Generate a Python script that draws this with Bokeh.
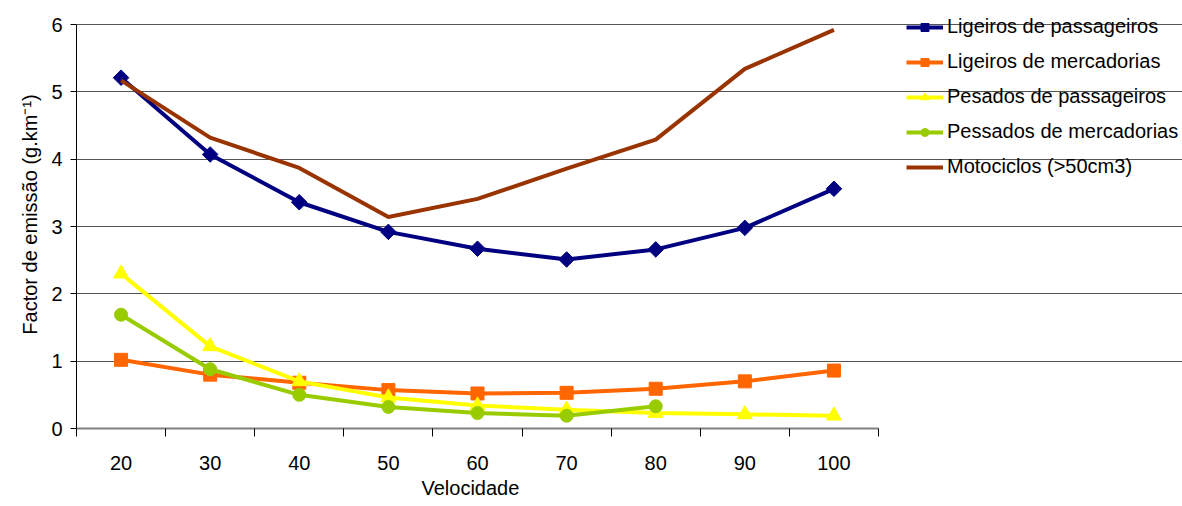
import numpy as np
from bokeh.plotting import figure
from bokeh.models import Range1d, FixedTicker, Legend, LegendItem, Title
from bokeh.embed import file_html
from bokeh.resources import INLINE

speeds = [20, 30, 40, 50, 60, 70, 80, 90, 100]
lig_pass = [5.21, 4.07, 3.36, 2.92, 2.67, 2.51, 2.66, 2.98, 3.56]
lig_merc = [1.02, 0.80, 0.68, 0.57, 0.52, 0.53, 0.59, 0.70, 0.86]
pes_pass = [2.30, 1.22, 0.70, 0.46, 0.34, 0.28, 0.23, 0.21, 0.19]
pes_merc_x = [20, 30, 40, 50, 60, 70, 80]
pes_merc = [1.69, 0.88, 0.50, 0.32, 0.23, 0.19, 0.33]
moto = [5.17, 4.32, 3.87, 3.14, 3.41, 3.86, 4.29, 5.34, 5.92]
y_ticks = [0, 1, 2, 3, 4, 5, 6]

FONT = "Liberation Sans"
FS = "20px"

# plot area 15..105 x 0..6 occupies 802x404 px; frame extended to host the legend
X0, X1 = 15, 105
x_end = X0 + (X1 - X0) * (1182 - 76) / 802
y_end = 6 * 428 / 404

p = figure(width=1182, height=506, output_backend="svg", toolbar_location=None,
           x_range=Range1d(X0, x_end), y_range=Range1d(0, y_end),
           min_border_left=76, min_border_right=0, min_border_top=0, min_border_bottom=78)
p.outline_line_color = None
p.background_fill_color = "white"
p.border_fill_color = "white"

# axes
p.xaxis.bounds = (X0, X1)
p.xaxis.ticker = FixedTicker(ticks=speeds, minor_ticks=[15 + 10 * i for i in range(10)])
p.xaxis.major_tick_line_color = None
p.xaxis.minor_tick_out = 8
p.xaxis.minor_tick_in = 0
p.xaxis.minor_tick_line_color = "black"
p.xaxis.axis_line_color = "#808080"
p.xaxis.axis_line_width = 2
p.xaxis.major_label_text_font = FONT
p.xaxis.major_label_text_font_size = FS
p.xaxis.major_label_text_color = "black"
p.xaxis.major_label_standoff = 19

xtitle = Title(text="Velocidade", align="left", offset=345, standoff=5,
               text_font=FONT, text_font_size=FS, text_font_style="normal",
               text_color="black")
p.add_layout(xtitle, "below")

p.yaxis.bounds = (0, 6)
p.yaxis.ticker = FixedTicker(ticks=y_ticks)
p.yaxis.minor_tick_line_color = None
p.yaxis.major_tick_out = 6
p.yaxis.major_tick_in = 0
p.yaxis.axis_line_color = "black"
p.yaxis.major_label_text_font = FONT
p.yaxis.major_label_text_font_size = FS
p.yaxis.major_label_text_color = "black"
p.yaxis.major_label_standoff = 8
p.yaxis.axis_label = "Factor de emissão (g.km⁻¹)"
p.yaxis.axis_label_text_font = FONT
p.yaxis.axis_label_text_font_size = FS
p.yaxis.axis_label_text_color = "black"
p.yaxis.axis_label_text_font_style = "normal"
p.yaxis.axis_label_standoff = 7

p.xgrid.grid_line_color = None
p.ygrid.bounds = (X0, X1)
p.ygrid.grid_line_color = "#555555"
p.ygrid.grid_line_width = 1

r1 = p.line(speeds, lig_pass, line_color="#000080", line_width=4)
m1 = p.scatter(speeds, lig_pass, marker="square", angle=np.pi / 4, size=11,
               fill_color="#000080", line_color="#000080")
r2 = p.line(speeds, lig_merc, line_color="#FF6600", line_width=4)
m2 = p.scatter(speeds, lig_merc, marker="square", size=13, fill_color="#FF6600", line_color="#FF6600")
r3 = p.line(speeds, pes_pass, line_color="#FFFF00", line_width=4)
m3 = p.scatter(speeds, pes_pass, marker="triangle", size=15, fill_color="#FFFF00", line_color="#FFFF00")
r4 = p.line(pes_merc_x, pes_merc, line_color="#99CC00", line_width=4)
m4 = p.scatter(pes_merc_x, pes_merc, marker="circle", size=13, fill_color="#99CC00", line_color="#99CC00")
r5 = p.line(speeds, moto, line_color="#993300", line_width=4)

legend = Legend(items=[
    LegendItem(label="Ligeiros de passageiros", renderers=[r1, m1]),
    LegendItem(label="Ligeiros de mercadorias", renderers=[r2, m2]),
    LegendItem(label="Pesados de passageiros", renderers=[r3, m3]),
    LegendItem(label="Pessados de mercadorias", renderers=[r4, m4]),
    LegendItem(label="Motociclos (>50cm3)", renderers=[r5]),
], location=(830, 250))
legend.label_text_font = FONT
legend.label_text_font_size = FS
legend.label_text_color = "black"
legend.glyph_width = 37
legend.glyph_height = 20
legend.label_height = 20
legend.spacing = 12
legend.padding = 0
legend.margin = 0
legend.label_standoff = 4
legend.border_line_color = None
legend.background_fill_alpha = 0
p.add_layout(legend, "center")

open("out.html", "w").write(file_html(p, INLINE))
